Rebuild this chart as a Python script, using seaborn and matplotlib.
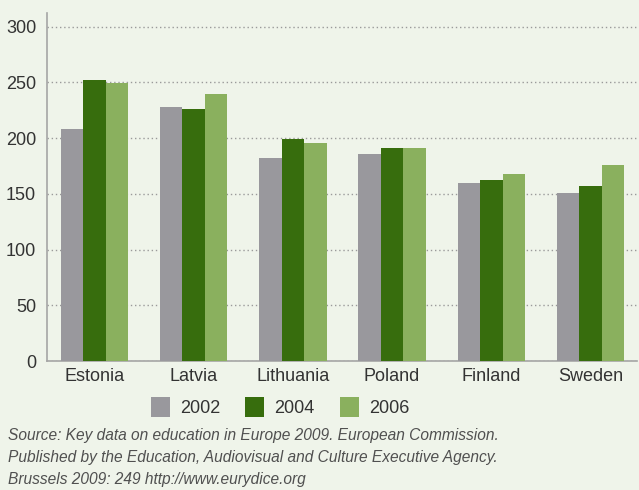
import matplotlib
matplotlib.use("Agg")
import matplotlib.pyplot as plt
import seaborn as sns
import pandas as pd

countries = ["Estonia", "Latvia", "Lithuania", "Poland", "Finland", "Sweden"]
years = ["2002", "2004", "2006"]
values_2002 = [208, 228, 182, 186, 160, 151]
values_2004 = [252, 226, 199, 191, 162, 157]
values_2006 = [249, 240, 196, 191, 168, 176]
yticks = [0, 50, 100, 150, 200, 250, 300]
source_text = ("Source: Key data on education in Europe 2009. European Commission.\n"
               "Published by the Education, Audiovisual and Culture Executive Agency.\n"
               "Brussels 2009: 249 http://www.eurydice.org")

colors = ["#99989d", "#376d0d", "#8ab05e"]
bg = "#eff4ea"

rows = []
for y, vals in zip(years, [values_2002, values_2004, values_2006]):
    for c, v in zip(countries, vals):
        rows.append({"country": c, "year": y, "value": v})
df = pd.DataFrame(rows)

sns.set_theme(style="white")
plt.rcParams["font.family"] = ["Liberation Sans", "DejaVu Sans"]

fig = plt.figure(figsize=(6.39, 4.90), dpi=100, facecolor=bg)
ax = fig.add_axes([0.074, 0.263, 0.923, 0.710])
ax.set_facecolor(bg)

sns.barplot(data=df, x="country", y="value", hue="year", order=countries,
            hue_order=years, palette=colors, width=0.68, saturation=1,
            edgecolor="none", linewidth=0, ax=ax, zorder=3)

ax.set_ylim(0, 312)
ax.set_xlim(-0.476, 5.47)
ax.set_yticks(yticks)
ax.set_xlabel("")
ax.set_ylabel("")
ax.yaxis.grid(True, linestyle=(0, (1, 2)), color="#9a9a9a", linewidth=1.0, zorder=0)
ax.xaxis.grid(False)
ax.set_axisbelow(True)
for s in ["top", "right"]:
    ax.spines[s].set_visible(False)
for s in ["left", "bottom"]:
    ax.spines[s].set_color("#a5a5a5")
    ax.spines[s].set_linewidth(1.2)
ax.tick_params(axis="both", length=0, labelsize=13, labelcolor="#333333")
ax.tick_params(axis="y", pad=8)
ax.tick_params(axis="x", pad=5)

handles, labels = ax.get_legend_handles_labels()
ax.legend(handles, labels, loc="center", bbox_to_anchor=(280 / 639, 1 - 407 / 490),
          bbox_transform=fig.transFigure, ncol=3, frameon=False, fontsize=13,
          handlelength=1.05, handleheight=1.3, handletextpad=0.55,
          columnspacing=1.4, labelcolor="#333333")

fig.text(8 / 639, 1 - 428 / 490, source_text, ha="left", va="top", fontsize=11.2,
         style="italic", color="#505050", linespacing=1.6)

fig.savefig("out.png", dpi=100, facecolor=bg)
